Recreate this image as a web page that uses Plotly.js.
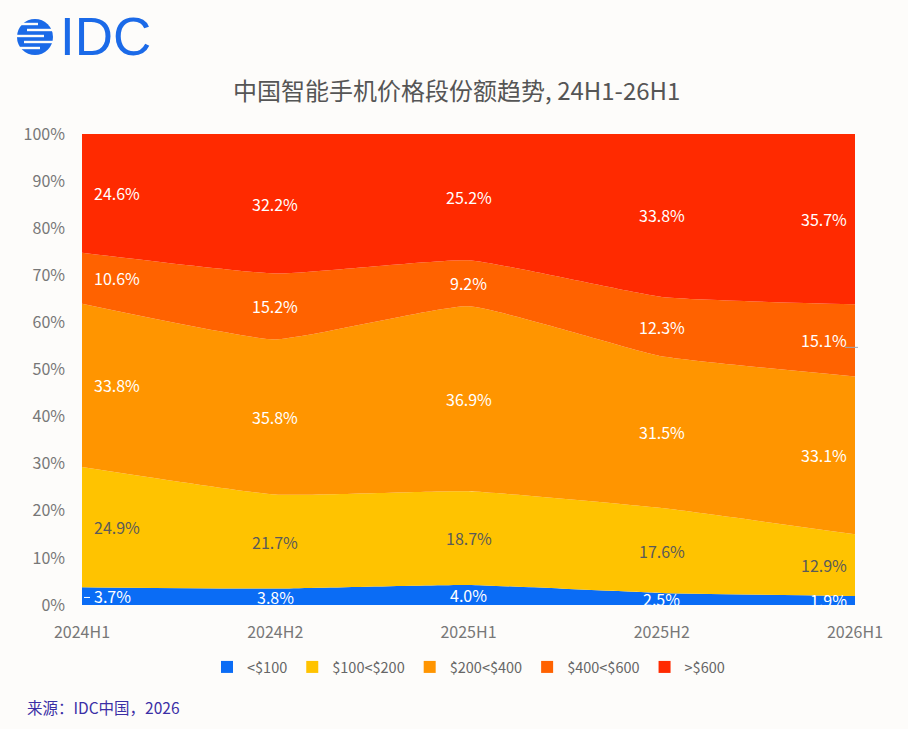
<!DOCTYPE html>
<html>
<head>
<meta charset="utf-8">
<script src="https://cdn.plot.ly/plotly-3.0.1.min.js"></script>
<style>
html,body{margin:0;padding:0;background:#fdfcfa;}
#chart{width:908px;height:729px;}
</style>
</head>
<body>
<div id="chart"></div>
<script>
const periods = ["2024H1","2024H2","2025H1","2025H2","2026H1"];
const seriesNames = ["<$100","$100<$200","$200<$400","$400<$600",">$600"];
const under100 = [3.7, 3.8, 4.0, 2.5, 1.9];
const s100to200 = [24.9, 21.7, 18.7, 17.6, 12.9];
const s200to400 = [33.8, 35.8, 36.9, 31.5, 33.1];
const s400to600 = [10.6, 15.2, 9.2, 12.3, 15.1];
const over600 = [24.6, 32.2, 25.2, 33.8, 35.7];
const yTicks = [0,10,20,30,40,50,60,70,80,90,100];
const yTickLabels = ["0%","10%","20%","30%","40%","50%","60%","70%","80%","90%","100%"];

const allSeries = [under100, s100to200, s200to400, s400to600, over600];
const colors = ["#0a6cf5","#ffc300","#ff9500","#ff6200","#ff2a00"];
const labelColors = ["#ffffff","#5a5a5a","#ffffff","#ffffff","#ffffff"];
const FONT = "Noto Sans CJK SC, Noto Sans, sans-serif";

// plot-area geometry for paper conversions
const W = 908, H = 729, L = 82, R = 53, T = 134, B = 124;
const pw = W - L - R, ph = H - T - B;
const px = x => (x - L) / pw;
const py = y => (H - B - y) / ph;

const traces = [];
allSeries.forEach((vals, i) => {
  traces.push({
    x: periods, y: vals, type: "scatter", mode: "lines",
    stackgroup: "one", groupnorm: "percent",
    line: {width: 0, shape: "spline", smoothing: 0.4, color: colors[i]},
    fillcolor: colors[i], name: seriesNames[i], showlegend: false, hoverinfo: "skip"
  });
});
allSeries.forEach((vals, i) => {
  traces.push({
    x: [null], y: [null], type: "scatter", mode: "markers",
    marker: {symbol: "square", size: 12, color: colors[i]},
    name: seriesNames[i], showlegend: true, hoverinfo: "skip"
  });
});

const annotations = [];
periods.forEach((p, j) => {
  const total = allSeries.reduce((s, a) => s + a[j], 0);
  let cum = 0;
  allSeries.forEach((vals, i) => {
    const mid = (cum + vals[j] / 2) / total * 100;
    cum += vals[j];
    let xanchor = "center", xshift = 0;
    if (j === 0) { xanchor = "left"; xshift = 10; }
    if (j === periods.length - 1) { xanchor = "right"; xshift = -6; }
    annotations.push({
      x: p, y: mid, xref: "x", yref: "y", text: vals[j].toFixed(1) + "%",
      showarrow: false, xanchor: xanchor, xshift: xshift, yanchor: "middle",
      font: {family: FONT, size: 16, color: labelColors[i]}
    });
  });
});
annotations.push({
  xref: "paper", yref: "paper", x: px(25), y: py(707), xanchor: "left", yanchor: "middle",
  text: "来源：IDC中国，2026", showarrow: false,
  font: {family: FONT, size: 15.5, color: "#3b2fa6"}
});
annotations.push({
  xref: "paper", yref: "paper", x: px(58), y: py(36), xanchor: "left", yanchor: "middle",
  text: "IDC", showarrow: false,
  font: {family: "Liberation Sans, Arial, sans-serif", size: 53, color: "#1b6ae8"}
});

const shapes = [
  {type: "circle", xref: "paper", yref: "paper", x0: px(17), x1: px(53), y0: py(55), y1: py(19),
   fillcolor: "#1b6ae8", line: {width: 0}},
  // small leader ticks next to two labels
  {type: "line", xref: "paper", yref: "y", x0: px(84), x1: px(90), y0: 1.6, y1: 1.6,
   line: {color: "#ffffff", width: 1}},
  {type: "line", xref: "paper", yref: "y", x0: px(845), x1: px(858), y0: 54.7, y1: 54.7,
   line: {color: "#9aa8b8", width: 1}}
];
const stripes = [[24,17,38],[30,27,55],[36,15,44],[42,24,55],[48,15,40]];
stripes.forEach(s => {
  shapes.push({type: "line", xref: "paper", yref: "paper", x0: px(s[1]), x1: px(s[2]), y0: py(s[0]), y1: py(s[0]),
    line: {color: "#fdfcfa", width: 2.4}});
});

const layout = {
  width: W, height: H,
  paper_bgcolor: "#fdfcfa", plot_bgcolor: "#fdfcfa",
  margin: {l: L, r: R, t: T, b: B},
  title: {text: "中国智能手机价格段份额趋势, 24H1-26H1", x: 0.503, xanchor: "center", y: 1 - 92 / H, yanchor: "middle",
    font: {family: FONT, size: 24, color: "#555555"}},
  xaxis: {type: "category", range: [0, 4], showgrid: false, zeroline: false, showline: false,
    ticks: "", ticklabelstandoff: 16, tickfont: {family: FONT, size: 16, color: "#777777"}, fixedrange: true},
  yaxis: {range: [0, 100], tickvals: yTicks, ticktext: yTickLabels, showgrid: false, zeroline: false,
    showline: false, ticks: "", ticklabelstandoff: 16, tickfont: {family: FONT, size: 16, color: "#777777"}, fixedrange: true},
  showlegend: true,
  legend: {orientation: "h", traceorder: "normal", x: 0.5, xanchor: "center", y: py(667), yanchor: "middle",
    font: {family: FONT, size: 14.5, color: "#666666"}, itemwidth: 30, tracegroupgap: 0,
    bgcolor: "rgba(0,0,0,0)"},
  annotations: annotations,
  shapes: shapes
};

Plotly.newPlot("chart", traces, layout, {displayModeBar: false, staticPlot: true});
</script>
</body>
</html>
